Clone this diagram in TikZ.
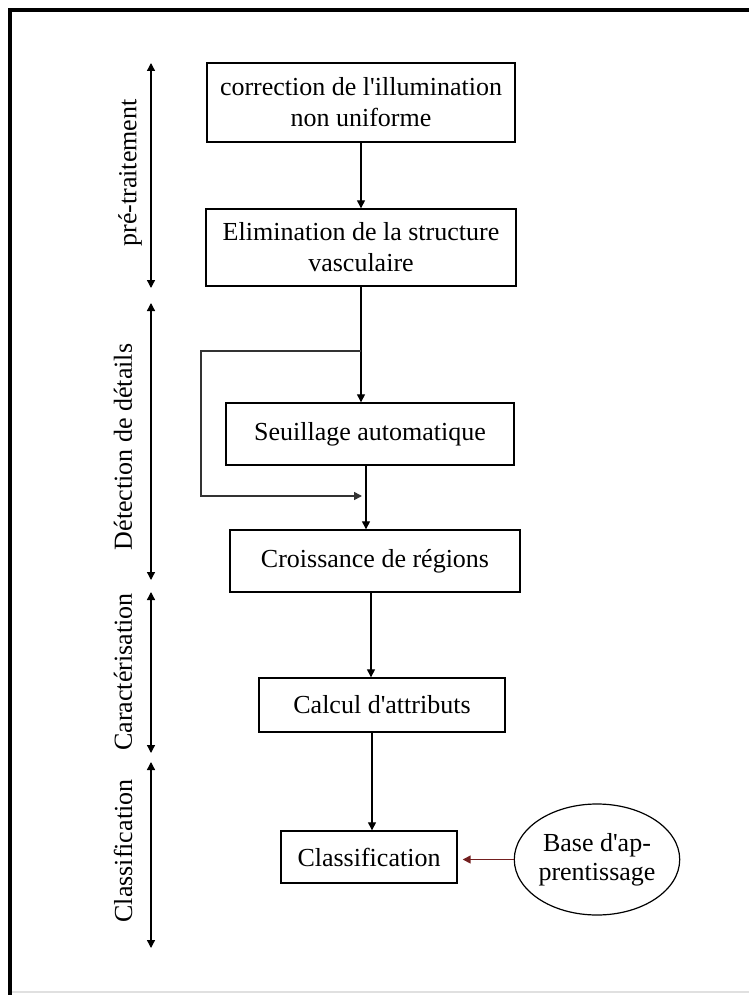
\documentclass[tikz,border=0pt]{standalone}
\usepackage{fontspec}
\setmainfont{Liberation Serif}
\usetikzlibrary{arrows.meta,shapes.geometric,positioning}
\definecolor{brunrouge}{rgb}{0.45,0.12,0.12}
\def\police{\fontsize{26}{31}\selectfont}
\def\apos{\textquotesingle}

\tikzset{
	etape/.style n args={2}{draw, line width=1.4pt, inner sep=0pt, align=center,
		minimum width=#1, minimum height=#2, font=\police},
	fleche/.style={-{Triangle[length=8pt,width=8pt]}, line width=1.3pt},
	phase/.style={{Triangle[length=8pt,width=8pt]}-{Triangle[length=8pt,width=8pt]}, line width=1.3pt},
	titrephase/.style={rotate=90, font=\police, inner sep=0pt},
}

\begin{document}
\begin{tikzpicture}[x=1pt, y=-1pt]
			%%%%% CADRE %%%%%
			\useasboundingbox (0,0) rectangle (749,995);
			\fill[white] (0,0) rectangle (749,995);
			\draw[line width=4pt] (10,995) -- (10,10) -- (749,10);
			\draw[line width=2pt, black!12] (12,992) -- (749,992);
			
			%%%%% ETAPES %%%%%
			\node[etape={308pt}{79pt}] (illum) at (361,102.5) {correction de l\apos illumination\\non uniforme};
			\node[etape={310pt}{77pt}] (elim) at (361,247.5) {Elimination de la structure\\vasculaire};
			\node[etape={288pt}{62pt}] (seuil) at (370,434) {Seuillage automatique};
			\node[etape={290pt}{62pt}] (crois) at (375,561) {Croissance de régions};
			\node[etape={246pt}{54pt}] (calc) at (382,705) {Calcul d\apos attributs};
			\node[etape={176pt}{52pt}] (classif) at (369,857) {Classification};
			\node[draw, ellipse, line width=1.2pt, inner sep=0pt, minimum width=156pt, minimum height=111pt,
				align=center, font=\fontsize{26}{29}\selectfont] (base) at (597,859.5) {Base d\apos ap-\\prentissage};
			
			%%%%% LIAISONS %%%%%
			\draw[fleche] (illum.south) -- (elim.north);
			\draw[fleche] (elim.south) -- (elim.south |- seuil.north);
			\draw[fleche] ([xshift=-4pt]seuil.south) -- ([xshift=-4pt]seuil.south |- crois.north);
			\draw[fleche] ([xshift=-4pt]crois.south) -- ([xshift=-4pt]crois.south |- calc.north);
			\draw[fleche] ([xshift=-10pt]calc.south) -- ([xshift=-10pt]calc.south |- classif.north);
			\draw[fleche, brunrouge, line width=1.5pt, shorten >=5pt] (base.west) -- (base.west -| classif.east);
			
			% boucle autour du seuillage
			\coordinate (depart) at (elim.south |- 0,351);
			\coordinate (retour) at (362,496);
			\draw[fleche, line width=1.6pt, black!80] (depart) -| (201,496) -- (retour);
			
			%%%%% PHASES %%%%%
			\draw[phase] (151,63) -- (151,288);
			\node[titrephase] (pretrait) at (130,173) {pré-traitement};
			
			\draw[phase] (151,303) -- (151,580);
			\node[titrephase] (detect) at (123,447) {Détection de détails};
			
			\draw[phase] (151,592) -- (151,753);
			\node[titrephase] (caract) at (123,672) {Caractérisation};
			
			\draw[phase] (151,762) -- (151,948);
			\node[titrephase] (classe) at (123,851) {Classification};
			
			%%%%% FIN %%%%%
\end{tikzpicture}
\end{document}
